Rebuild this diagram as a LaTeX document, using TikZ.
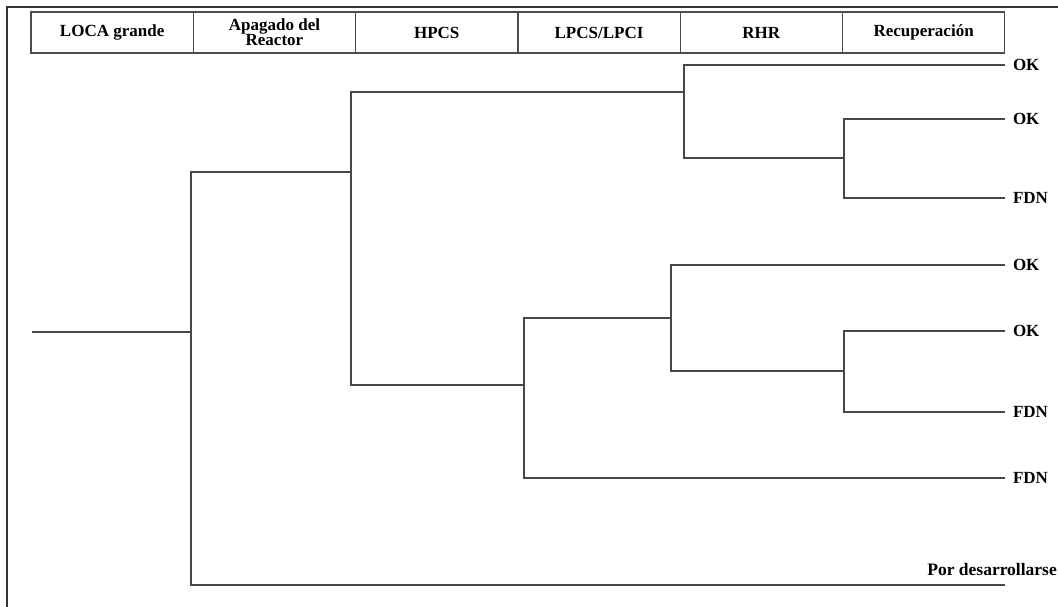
\documentclass[tikz,border=0pt]{standalone}
\usepackage{fontspec}
\setmainfont{Liberation Serif}
\usetikzlibrary{positioning}

\begin{document}
\begin{tikzpicture}[x=1pt, y=-1pt,
    hdr/.style={draw=black!70, line width=1.2pt, minimum width=162.3pt, minimum height=41pt, inner sep=0pt, outer sep=0pt, align=center, font=\fontsize{17}{15}\selectfont\bfseries},
    branch/.style={draw=black!72, line width=1.6pt},
    outcome/.style={anchor=west, inner xsep=8pt, inner ysep=0pt, outer sep=0pt, font=\fontsize{17}{17}\selectfont\bfseries}
]
    \useasboundingbox (0,0) rectangle (1058,607);
    \draw[line width=1.4pt, black!80] (7,607) -- (7,7) -- (1058,7);

    % cabecera
    \node[hdr, anchor=north west] (h1) at (31,12) {LOCA grande};
    \node[hdr, right=0pt of h1] (h2) {Apagado del\\Reactor};
    \node[hdr, right=0pt of h2] (h3) {HPCS};
    \node[hdr, right=0pt of h3] (h4) {LPCS/LPCI};
    \node[hdr, right=0pt of h4] (h5) {RHR};
    \node[hdr, right=0pt of h5] (h6) {Recuperación};

    % puntos de bifurcacion
    \coordinate (root) at (32,332);
    \coordinate (s1) at (191,332);
    \coordinate (s2) at (351,172);
    \coordinate (s3) at (684,92);
    \coordinate (s4) at (844,158);
    \coordinate (s5) at (524,385);
    \coordinate (s6) at (671,318);
    \coordinate (s7) at (844,371);
    \coordinate (e8) at (1005,585);

    % estados finales
    \node[outcome] (o1) at (1005,65) {OK};
    \node[outcome] (o2) at (1005,119) {OK};
    \node[outcome] (o3) at (1005,198) {FDN};
    \node[outcome] (o4) at (1005,265) {OK};
    \node[outcome] (o5) at (1005,331) {OK};
    \node[outcome] (o6) at (1005,412) {FDN};
    \node[outcome] (o7) at (1005,478) {FDN};
    \node[font=\fontsize{17.5}{17}\selectfont\bfseries, anchor=base east, inner sep=0pt] (pd) at (1057,575) {Por desarrollarse};

    \draw[branch] (root) -- (s1);
    \draw[branch] (s1) |- (s2);
    \draw[branch] (s1) |- (e8);
    \draw[branch] (s2) |- (s3);
    \draw[branch] (s2) |- (s5);
    \draw[branch] (s3) |- (o1.west);
    \draw[branch] (s3) |- (s4);
    \draw[branch] (s4) |- (o2.west);
    \draw[branch] (s4) |- (o3.west);
    \draw[branch] (s5) |- (s6);
    \draw[branch] (s5) |- (o7.west);
    \draw[branch] (s6) |- (o4.west);
    \draw[branch] (s6) |- (s7);
    \draw[branch] (s7) |- (o5.west);
    \draw[branch] (s7) |- (o6.west);
\end{tikzpicture}
\end{document}
